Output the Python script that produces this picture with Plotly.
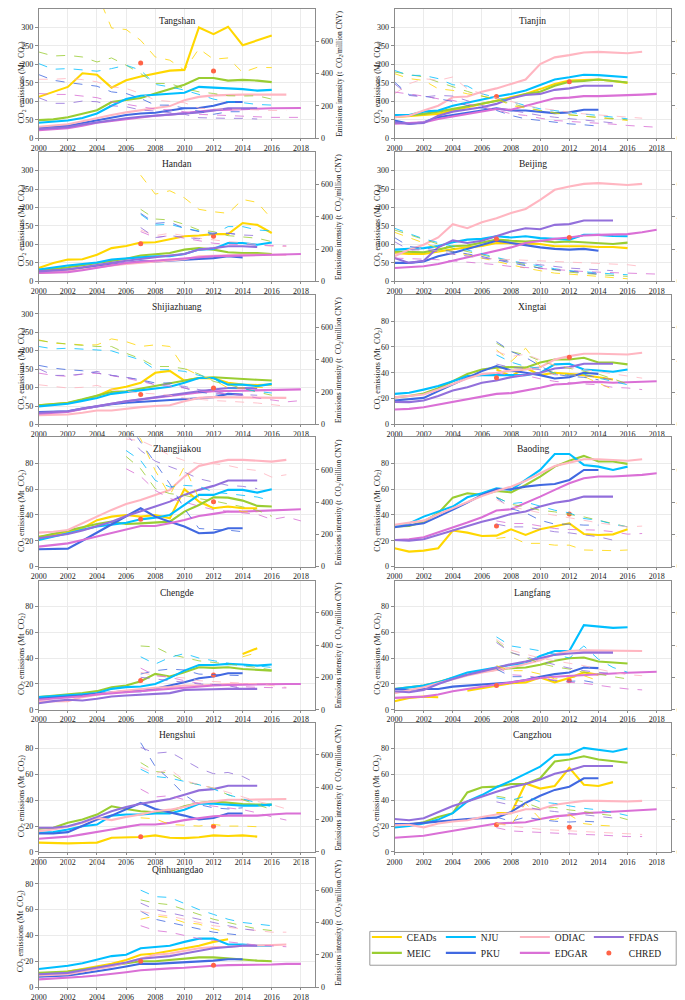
import plotly.graph_objects as go

N = None
YEARS = list(range(2000, 2019))
X_TICKS = list(range(2000, 2019, 2))
SOURCES = ["CEADs", "MEIC", "NJU", "PKU", "ODIAC", "EDGAR", "FFDAS"]
COLORS = {"CEADs": "#FFD700", "MEIC": "#9ACD32", "NJU": "#00BFFF", "PKU": "#4169E1",
          "ODIAC": "#FFB6C1", "EDGAR": "#DA70D6", "FFDAS": "#9370DB", "CHRED": "#FF6347"}
LEGEND_ROW = {"CEADs": "legend", "NJU": "legend", "ODIAC": "legend", "FFDAS": "legend",
              "MEIC": "legend2", "PKU": "legend2", "EDGAR": "legend2", "CHRED": "legend2"}
LEGEND_RANK = {"CEADs": 1, "NJU": 2, "ODIAC": 3, "FFDAS": 4, "MEIC": 1, "PKU": 2, "EDGAR": 3, "CHRED": 4}
CHRED_YEARS = [2007, 2012]

# ---------------- emissions (Mt CO2), lists start at 2000 ----------------
TANGSHAN_EMIS = {
    "CEADs": [112, 125, 139, 176, 172, 137, 157, 167, 176, 183, 185, 300, 282, 302, 252, 265, 278],
    "MEIC": [49, 51, 57, 66, 76, 98, 103, 109, 121, 134, 145, 163, 163, 156, 158, 156, 152],
    "NJU": [42, 44, 48, 55, 67, 88, 106, 115, 118, 121, 123, 139, 138, 135, 133, 129, 131],
    "PKU": [29, 31, 34, 41, 49, 56, 63, 67, 69, 75, 81, 82, 88, 98, 98],
    "ODIAC": [31, 34, 38, 46, 55, 63, 70, 76, 81, 87, 103, 112, 116, 118, 118, 118, 118, 118],
    "EDGAR": [22, 24, 27, 34, 42, 47, 52, 56, 61, 64, 67, 72, 76, 78, 79, 80, 81, 82, 82],
    "FFDAS": [25, 27, 30, 37, 43, 48, 54, 58, 61, 64, 66, 70, 75, 81, 81, 81],
}
TIANJIN_EMIS = {
    "CEADs": [57, 59, 63, 66, 75, 86, 93, 102, 111, 120, 133, 147, 156, 158, 159, 155, 150],
    "MEIC": [59, 62, 66, 72, 79, 86, 93, 102, 108, 120, 126, 142, 153, 155, 159, 155, 151],
    "NJU": [63, 63, 72, 75, 88, 97, 104, 113, 120, 129, 144, 159, 165, 172, 171, 168, 165],
    "PKU": [48, 39, 43, 57, 63, 70, 75, 81, 75, 75, 72, 68, 70, 77, 77],
    "ODIAC": [57, 61, 75, 88, 111, 113, 126, 135, 147, 159, 201, 219, 225, 232, 234, 231, 230, 234],
    "EDGAR": [39, 41, 43, 52, 59, 65, 73, 79, 77, 88, 97, 108, 110, 114, 114, 115, 115, 118, 120],
    "FFDAS": [43, 39, 41, 61, 72, 77, 84, 93, 108, 117, 120, 131, 135, 142, 142, 142],
}
HANDAN_EMIS = {
    "CEADs": [36, 50, 59, 60, 72, 90, 96, 105, 106, 113, 122, 124, 128, 128, 158, 153, 131],
    "MEIC": [29, 33, 38, 44, 50, 56, 61, 70, 74, 77, 86, 90, 86, 79, 77, 77, 74],
    "NJU": [32, 38, 43, 47, 51, 59, 61, 65, 68, 68, 74, 86, 88, 104, 104, 99, 105],
    "PKU": [25, 28, 32, 36, 41, 45, 50, 54, 54, 57, 60, 61, 63, 68, 65],
    "ODIAC": [23, 25, 27, 32, 38, 43, 47, 50, 54, 57, 60, 68, 70, 72, 72, 72, 72, 72],
    "EDGAR": [23, 24, 25, 30, 36, 43, 50, 53, 56, 58, 61, 65, 68, 69, 70, 70, 70, 72, 74],
    "FFDAS": [27, 29, 32, 38, 43, 50, 56, 60, 65, 70, 74, 86, 90, 95, 95, 93],
}
BEIJING_EMIS = {
    "CEADs": [77, 74, 74, 81, 87, 92, 96, 104, 103, 101, 101, 95, 96, 95, 93, 93, 90],
    "MEIC": [81, 80, 79, 86, 95, 97, 104, 113, 110, 108, 110, 106, 108, 105, 104, 101, 105],
    "NJU": [86, 87, 90, 96, 106, 113, 115, 122, 119, 122, 117, 115, 113, 126, 126, 123, 122],
    "PKU": [50, 50, 54, 68, 77, 88, 99, 110, 104, 97, 92, 88, 86, 88, 83],
    "ODIAC": [68, 86, 99, 119, 155, 144, 160, 171, 185, 196, 221, 248, 257, 264, 266, 263, 261, 264],
    "EDGAR": [36, 38, 41, 47, 56, 63, 72, 81, 92, 104, 110, 115, 119, 124, 126, 126, 128, 133, 140],
    "FFDAS": [63, 50, 56, 92, 111, 104, 110, 122, 135, 144, 141, 153, 155, 165, 165, 165],
}
SHIJIAZHUANG_EMIS = {
    "CEADs": [52, 55, 58, 67, 77, 95, 102, 113, 140, 145, 119, 126, 125, 113, 108, 107, 108],
    "MEIC": [52, 55, 59, 68, 77, 88, 90, 97, 104, 110, 117, 126, 128, 125, 122, 121, 119],
    "NJU": [49, 52, 56, 64, 72, 83, 88, 92, 98, 102, 113, 126, 126, 108, 108, 104, 110],
    "PKU": [34, 35, 36, 43, 50, 55, 59, 61, 63, 66, 68, 71, 74, 83, 81],
    "ODIAC": [25, 26, 27, 32, 38, 38, 43, 47, 50, 52, 63, 72, 74, 74, 73, 72, 72, 72],
    "EDGAR": [29, 31, 34, 42, 50, 56, 63, 68, 72, 78, 83, 87, 90, 91, 92, 93, 94, 94, 95],
    "FFDAS": [32, 34, 36, 43, 50, 56, 63, 68, 74, 80, 86, 90, 95, 99, 99, 98],
}
XINGTAI_EMIS = {
    "CEADs": [N, N, N, N, N, N, N, 42.6, 37.4, 43.9, 38.2, 40, 39.2, 38.2, 36.6, 34.8],
    "MEIC": [21, 22, 24, 28, 33.5, 39, 42.6, 44, 44.4, 44, 48, 50.3, 50.3, 51.6, 48, 48, 46.5],
    "NJU": [23.7, 24.5, 27, 29.7, 33.5, 37.4, 38.2, 38.2, 38.2, 38.2, 40, 46.5, 47, 42.6, 41.8, 40.8, 42.6],
    "PKU": [18.6, 19.4, 20.6, 25.8, 31, 36, 41.3, 45.2, 41.8, 40, 38.2, 35.6, 36.6, 40, 39.2],
    "ODIAC": [21, 22, 23.2, 27, 31.5, 35.6, 39, 40, 41.8, 42.6, 44.4, 50.3, 52.9, 54.7, 54.7, 54.2, 54.2, 55.5],
    "EDGAR": [11.6, 12.1, 13.4, 15.5, 18, 19.9, 21.9, 23.7, 24.3, 26.3, 28.4, 31, 31.5, 32.8, 33, 32.3, 32.8, 33.5, 33.5],
    "FFDAS": [17.5, 17.3, 18.6, 22, 26.3, 28.9, 32.3, 34, 36.6, 38.2, 40, 43.4, 44.4, 47, 47, 47],
}
ZHANGJIAKOU_EMIS = {
    "CEADs": [23, 24.5, 27, 29.7, 36, 38.7, 40, 38.7, 40, 37.4, 60, 50.3, 45.2, 46.5, 45.2, 45.2],
    "MEIC": [23, 25.5, 28, 30.5, 33, 34.8, 33, 33.5, 34, 34.8, 42.6, 47.7, 53.7, 53.4, 51.1, 47, 46.5],
    "NJU": [20.6, 23, 25.8, 28.5, 31, 32.5, 34, 36.6, 37.9, 40, 47.7, 55.5, 55.5, 59.4, 59.4, 57.3, 59.9],
    "PKU": [13.4, 13.4, 13.9, 20, 26.5, 32.7, 39, 45.2, 38.7, 34.8, 31, 25.8, 26.3, 29.7, 29.7],
    "ODIAC": [26.3, 27, 28.4, 33.5, 39.2, 43.9, 48.5, 51.6, 55.5, 59.4, 69.7, 77.9, 80.5, 82.6, 82.6, 81.8, 81.3, 82.6],
    "EDGAR": [15.5, 16.8, 18, 20.6, 23.2, 25.8, 28.9, 31.5, 31.5, 33.5, 36.1, 39.2, 40.8, 42.6, 42.6, 43, 43.4, 44, 44.4],
    "FFDAS": [21.9, 23.7, 25.3, 27.9, 31.5, 34.8, 39.2, 42.6, 46.5, 50.3, 55.5, 59.4, 62.5, 66.6, 66.6, 66.6],
}
BAODING_EMIS = {
    "CEADs": [14.2, 11.6, 12.4, 14.2, 27.9, 26.3, 23.7, 24, 28.9, 24.5, 28.9, 31, 33.5, 25.3, 24.5, 25, 28.9],
    "MEIC": [31, 31.5, 34.8, 41.3, 53.4, 56.8, 55.5, 58.5, 57.5, 63.2, 69.7, 77.4, 82, 85.7, 81.3, 81.3, 79.5],
    "NJU": [31, 33.5, 38.7, 42.6, 46.5, 53.7, 56.8, 60.6, 59.4, 67.1, 74.8, 87.2, 87.2, 78.7, 77.4, 74.8, 77.4],
    "PKU": [30.5, 32, 33.5, 38.7, 43.9, 49.5, 55.5, 59.9, 59.9, 61.9, 63.2, 64, 67.1, 74.8, 74.8],
    "ODIAC": [32.3, 34, 35.6, 40.5, 45.2, 50, 54.7, 58.5, 61.9, 66.5, 72.3, 77.9, 80.5, 83.1, 83.1, 82.6, 82, 83.1],
    "EDGAR": [20.6, 21.2, 22.7, 26.3, 30.5, 34.1, 38.2, 43.4, 44.4, 49, 54.2, 59.4, 64.5, 68.4, 69.7, 69.7, 70.2, 71, 72.3],
    "FFDAS": [20.6, 20.1, 21.2, 24.5, 27.9, 31, 34.8, 37.4, 40.8, 42.6, 46.5, 49.5, 51.1, 54.2, 54.2, 54.2],
}
CHENGDE_EMIS = {
    "CEADs": [N, N, N, N, N, N, N, N, N, N, N, N, N, N, 43.2, 47.6],
    "MEIC": [9.8, 10.8, 11.8, 13, 14.4, 17.5, 18.8, 22.1, 27.8, 25.7, 29, 32.9, 32.4, 32.9, 31.6, 30.8, 30.3],
    "NJU": [9.8, 10.4, 11.1, 12, 12.9, 16.2, 17.5, 18, 20, 24.7, 30.3, 34.7, 34.7, 35.5, 35, 34.2, 35],
    "PKU": [8.5, 9.2, 9.8, 11, 12.3, 13.5, 14.4, 14.4, 16.2, 18.8, 21.3, 24.4, 25.7, 28.3, 28.3],
    "ODIAC": [6.4, 6.4, 6.7, 9.8, 11.8, 13.6, 14.9, 16.2, 17, 17.5, 18.8, 18.8, 19.5, 20, 20, 20, 20, 20],
    "EDGAR": [7.7, 8.5, 9.3, 10.5, 11.8, 12.7, 13.6, 14.5, 15.4, 16.5, 17.5, 18.2, 18.8, 19.2, 19.5, 19.8, 20, 20, 20],
    "FFDAS": [5.1, 6.7, 7.7, 7.2, 8.5, 10.3, 11.1, 11.8, 12.3, 12.9, 15.4, 15.4, 15.9, 16.2, 16.2, 16.2],
}
LANGFANG_EMIS = {
    "CEADs": [6.6, 9.2, 10.2, 9.7, N, 14.8, 16.9, 18.7, 20.5, 21.2, 25, 21.2, 24.6, 28.9, 27.1],
    "MEIC": [16.1, 17.4, 18.7, 21.5, 24.6, 27, 29.7, 31, 32.2, 32.7, 34.8, 37.9, 39.9, 40.4, 37.3, 36.6, 35.8],
    "NJU": [16.1, 17.4, 18.7, 21.2, 25, 28.9, 30.7, 32.7, 34.8, 35.8, 41.7, 45.5, 45.5, 65.5, 64.7, 63.4, 63.9],
    "PKU": [16.1, 15.3, 16.1, 16.1, 17.9, 18.7, 19.4, 19.9, 21.2, 23, 25.6, 27.6, 28.9, 32.7, 32.2],
    "ODIAC": [12.8, 15, 17.4, 20.5, 23.8, 26.5, 28.9, 31, 32.7, 35.5, 38.4, 43, 45.5, 46, 46, 45.5, 45.5, 45.5],
    "EDGAR": [9.2, 9.7, 10.2, 11.8, 14.3, 16.1, 17.9, 19.4, 21.2, 23, 24.6, 25.6, 26.3, 27.1, 27.6, 28.1, 28.6, 28.9, 29.4],
    "FFDAS": [14.3, 13.6, 15.3, 19.9, 23.8, 27.1, 29.7, 32.7, 35.3, 37.3, 39.9, 42.5, 43.5, 44.2, 44.2, 44.2],
}
HENGSHUI_EMIS = {
    "CEADs": [7.2, 6.9, 6.6, 6.9, 7.2, 11, 11, 11.5, 12.8, 11, 10.7, 11.3, 12.8, 12.3, 12.8, 11.8],
    "MEIC": [17.9, 18.7, 22.5, 25.1, 28.9, 35.3, 33.2, 31.5, 30.7, 31.5, 35.3, 37.9, 39.1, 37.9, 37.1, 36.6, 36.6],
    "NJU": [14.8, 15.3, 17.4, 19.9, 21.2, 28.1, 28.9, 28.9, 29.7, 29.7, 32.7, 37.3, 37.3, 36.6, 35.8, 35.8, 36.6],
    "PKU": [14.3, 14.3, 15.3, 19.9, 25.1, 28.1, 32.7, 37.9, 33.2, 30.7, 28.1, 25.1, 26.3, 29.7, 29.7],
    "ODIAC": [16.1, 17.4, 19.4, 22.5, 26.3, 24.6, 27.1, 28.9, 31.5, 32.7, 34.8, 37.9, 39.1, 40.4, 40.4, 40.4, 40.4, 40.9],
    "EDGAR": [10.2, 11, 11.8, 13.6, 15.3, 17.4, 19.4, 21.2, 21.2, 22.5, 24.6, 26.3, 27.6, 28.1, 28.1, 28.1, 28.9, 29.7, 29.7],
    "FFDAS": [18.7, 18.7, 19.9, 23, 27.1, 31.5, 34.8, 37.3, 39.1, 40.9, 44.2, 47.6, 48.6, 51.2, 51.2, 51.2],
}
CANGZHOU_EMIS = {
    "CEADs": [N, N, N, N, N, N, N, 30, 30, 53, 49, 51, 65, 52, 51, 54],
    "MEIC": [20, 21, 23, 27, 30, 46, 50, 50.5, 52.5, 52.5, 57, 70, 71.5, 74, 71.5, 70.5, 69],
    "NJU": [19, 20, 22, 25, 30, 39, 44, 50, 55, 60.5, 66, 75, 75.5, 80.5, 79, 77.5, 80],
    "PKU": [21.5, 21.5, 22.5, 23.5, 25, 25.5, 26, 26.5, 31, 38, 43.5, 48, 50.5, 57, 57],
    "ODIAC": [20.5, 21, 19, 22, 23.5, 24.5, 27, 29, 30, 33, 33, 36.5, 38, 39.5, 39.5, 39, 39, 39.5],
    "EDGAR": [11, 11.5, 12.5, 14.5, 16.5, 18, 20, 22, 22.5, 23, 25.5, 27.5, 28.5, 30, 30.5, 31, 31.5, 32.3, 33],
    "FFDAS": [25.5, 24.5, 26, 30.5, 35.5, 39, 43, 46.5, 50, 52.5, 56, 60.5, 63, 66.5, 66.5, 66.5],
}
QINHUANGDAO_EMIS = {
    "CEADs": [10, 11, 12, 14, 16, 18, 21, 25, 26, 28, 30, 32, 35, 37],
    "MEIC": [11, 11.5, 12, 13.5, 15, 16.5, 18, 20, 20, 21, 22, 23, 23, 22, 21, 20.5, 20],
    "NJU": [14, 15, 16.5, 18.5, 21, 24, 25, 30, 31, 32, 35, 37.5, 37.5, 33, 33, 32, 32],
    "PKU": [8, 8.5, 9, 10.5, 12, 14, 16, 18, 18, 18.5, 19, 20, 20.5, 21.5, 21.5],
    "ODIAC": [9, 9.5, 10, 12, 14, 16, 19, 22, 25, 26, 28, 30, 31, 31, 32, 32, 32.5, 33],
    "EDGAR": [6, 6.5, 7, 8, 9, 10, 11.5, 13, 14, 14.5, 15, 16, 16.5, 17, 17, 17.5, 17.5, 18, 18],
    "FFDAS": [10, 10.5, 11, 13, 15, 17, 19, 22, 23, 24, 26, 28, 30, 31, 32, 32],
}

# ---------------- CHRED points (2007, 2012) ----------------
TANGSHAN_CHRED = [204, 182]
TIANJIN_CHRED = [113, 153]
HANDAN_CHRED = [102, 122]
BEIJING_CHRED = [115, 119]
SHIJIAZHUANG_CHRED = [81, 99]
XINGTAI_CHRED = [36.1, 52.1]
ZHANGJIAKOU_CHRED = [36.6, 50.3]
BAODING_CHRED = [31.5, 40.8]
CHENGDE_CHRED = [22.6, 27]
LANGFANG_CHRED = [18.7, 22.5]
HENGSHUI_CHRED = [11.8, 19.9]
CANGZHOU_CHRED = [21, 19]
QINHUANGDAO_CHRED = [20, 17]

# ---------------- emission intensity (t CO2 / million CNY) ----------------
INT_START = {"Tangshan": 2000, "Tianjin": 2000, "Handan": 2007, "Beijing": 2000,
             "Shijiazhuang": 2000, "Xingtai": 2007, "Zhangjiakou": 2006, "Baoding": 2007,
             "Chengde": 2007, "Langfang": 2007, "Hengshui": 2007, "Cangzhou": 2007,
             "Qinhuangdao": 2007}

TANGSHAN_INT = {
    "CEADs": [1200, 1150, 1100, 1000, 900, 682, 673, 606, 503, 483, 421, 554, 489, 497, 407, 439, 437],
    "MEIC": [534, 509, 513, 503, 472, 497, 452, 400, 339, 339, 308, 287, 277, 263, 261, 263, 242],
    "NJU": [462, 427, 431, 425, 415, 431, 452, 421, 333, 318, 298, 271, 242, 226, 220, 209, 205],
    "PKU": [394, 359, 345, 333, 322, 287, 277, 246, 205, 205, 185, 164, 148, 164, 164],
    "ODIAC": [365, 365, 370, 363, 349, 318, 308, 277, 236, 230, 220, 185, 181, 179, 179, 175, 172, 172],
    "EDGAR": [277, 271, 271, 263, 251, 226, 209, 195, 181, 175, 164, 148, 144, 140, 133, 131, 129, 129, 129],
    "FFDAS": [251, 216, 216, 230, 226, 201, 195, 175, 168, 160, 148, 127, 123, 123, 123, 119],
}
TIANJIN_INT = {
    "CEADs": [400, 369, 358, 306, 296, 275, 261, 244, 203, 186, 172, 155, 145, 137, 130, 120, 110],
    "MEIC": [410, 395, 379, 348, 317, 290, 261, 237, 213, 192, 172, 158, 145, 137, 130, 122, 114],
    "NJU": [420, 389, 389, 369, 331, 323, 275, 250, 224, 203, 182, 170, 157, 149, 141, 130, 120],
    "PKU": [348, 269, 261, 244, 228, 203, 186, 172, 141, 120, 110, 99, 89, 83, 75],
    "ODIAC": [275, 337, 369, 358, 379, 306, 275, 248, 228, 203, 186, 172, 161, 151, 145, 137, 130, 124],
    "EDGAR": [286, 275, 261, 244, 234, 213, 193, 176, 151, 141, 124, 110, 104, 99, 95, 87, 79, 74, 68],
    "FFDAS": [337, 265, 255, 265, 261, 234, 203, 182, 172, 157, 141, 130, 120, 110, 104, 95],
}
HANDAN_INT = {
    "CEADs": [657, 540, 561, 517, 446, 431, 421, 507, 489, 386],
    "MEIC": [446, 386, 380, 353, 318, 308, 283, 277, 267, 246],
    "NJU": [415, 349, 353, 329, 312, 292, 339, 339, 318, 312],
    "PKU": [421, 359, 366, 329, 308, 298, 298, 287],
    "ODIAC": [318, 283, 298, 283, 267, 257, 246, 240, 226, 216, 216],
    "EDGAR": [308, 271, 283, 267, 250, 236, 230, 226, 224, 222, 220],
    "FFDAS": [333, 271, 283, 271, 263, 298, 298, 287, 283],
}
BEIJING_INT = {
    "CEADs": [304, 271, 236, 205, 185, 164, 144, 123, 103, 82, 66, 51, 45, 37, 31, 25, 16],
    "MEIC": [318, 288, 257, 231, 205, 185, 164, 144, 123, 103, 82, 70, 57, 49, 41, 36, 31],
    "NJU": [329, 298, 263, 240, 216, 192, 168, 148, 127, 110, 92, 78, 66, 58, 51, 46, 41],
    "PKU": [271, 216, 205, 195, 185, 170, 154, 133, 113, 97, 82, 72, 62, 53, 45],
    "ODIAC": [168, 190, 205, 185, 168, 156, 144, 138, 133, 130, 127, 123, 119, 116, 113, 108, 103, 92],
    "EDGAR": [144, 142, 140, 134, 127, 120, 113, 103, 92, 85, 78, 72, 66, 61, 57, 53, 49, 47, 45],
    "FFDAS": [246, 195, 195, 185, 168, 156, 144, 133, 123, 113, 103, 92, 82, 77, 72, 66],
}
SHIJIAZHUANG_INT = {
    "CEADs": [524, 503, 499, 493, 493, 530, 513, 483, 493, 483, 349, 304, 277, 226, 226, 230, 226],
    "MEIC": [520, 508, 497, 490, 483, 483, 441, 407, 359, 359, 345, 312, 267, 246, 226, 201, 181],
    "NJU": [483, 468, 472, 468, 462, 456, 427, 400, 339, 339, 329, 304, 287, 226, 222, 205, 195],
    "PKU": [366, 349, 339, 333, 318, 304, 292, 277, 257, 257, 226, 201, 189, 189, 185],
    "ODIAC": [246, 236, 226, 230, 242, 216, 205, 195, 189, 181, 164, 154, 148, 144, 140, 133, 123, 113],
    "EDGAR": [318, 304, 298, 312, 318, 304, 287, 267, 246, 236, 226, 209, 195, 189, 181, 164, 154, 140, 148],
    "FFDAS": [345, 304, 304, 312, 329, 304, 292, 277, 246, 246, 236, 216, 205, 189, 185, 181],
}
XINGTAI_INT = {
    "CEADs": [462, 390, 472, 359, 318, 308, 298, 257, 216],
    "MEIC": [503, 452, 431, 394, 366, 349, 333, 312, 283, 251],
    "NJU": [431, 386, 359, 349, 318, 304, 312, 287, 267, 246],
    "PKU": [513, 452, 415, 366, 312, 298, 292, 277],
    "ODIAC": [452, 421, 435, 400, 366, 353, 339, 329, 312, 298, 287],
    "EDGAR": [318, 304, 304, 283, 267, 257, 251, 246, 230, 226, 216],
    "FFDAS": [374, 353, 349, 339, 308, 304, 304, 292, 277],
}
ZHANGJIAKOU_INT = {
    "CEADs": [900, 790, 595, 441, 620, 421, 359, 370, 339, 339],
    "MEIC": [682, 606, 483, 452, 441, 421, 407, 390, 370, 349, 312],
    "NJU": [719, 657, 534, 493, 503, 497, 462, 452, 441, 431, 407],
    "PKU": [900, 770, 637, 513, 359, 236, 230, 226, 216],
    "ODIAC": [790, 780, 739, 688, 657, 637, 637, 626, 606, 595, 554, 569],
    "EDGAR": [606, 559, 472, 421, 400, 374, 353, 345, 333, 324, 292, 308, 283],
    "FFDAS": [820, 719, 653, 620, 585, 544, 524, 503, 497, 483],
}
BAODING_INT = {
    "CEADs": [175, 185, 144, 144, 133, 133, 103, 99, 99, 103],
    "MEIC": [431, 386, 370, 349, 339, 324, 308, 287, 267, 246],
    "NJU": [427, 390, 400, 374, 349, 333, 298, 287, 263, 246],
    "PKU": [427, 359, 333, 287, 263, 263, 257, 257],
    "ODIAC": [415, 370, 353, 333, 318, 304, 287, 271, 257, 246, 251],
    "EDGAR": [283, 267, 267, 251, 236, 230, 230, 226, 216, 201, 205],
    "FFDAS": [263, 246, 246, 230, 216, 209, 195, 185, 164],
}
CHENGDE_INT = {
    "CEADs": [N, N, N, N, N, N, N, 328, 354],
    "MEIC": [395, 389, 344, 324, 303, 293, 283, 272, 262, 246],
    "NJU": [328, 283, 324, 348, 320, 303, 287, 272, 272, 262],
    "PKU": [221, 242, 252, 246, 221, 217, 217, 211],
    "ODIAC": [232, 211, 205, 197, 180, 176, 170, 164, 160, 150, 139],
    "EDGAR": [258, 211, 201, 180, 164, 156, 150, 143, 139, 139, 135],
    "FFDAS": [201, 191, 180, 170, 160, 156, 150, 129, 129],
}
LANGFANG_INT = {
    "CEADs": [273, 242, 242, 221, 191, 197, 211, 180],
    "MEIC": [426, 354, 324, 287, 266, 252, 232, 221, 205, 191],
    "NJU": [451, 395, 381, 365, 344, 320, 395, 313, 262, 232],
    "PKU": [252, 205, 205, 197, 180, 176, 180, 164],
    "ODIAC": [436, 369, 344, 320, 303, 287, 273, 252, 232, 217, 211],
    "EDGAR": [266, 217, 211, 197, 180, 170, 164, 150, 139, 129, 123],
    "FFDAS": [416, 354, 328, 303, 279, 258, 242, 232, 225],
}
HENGSHUI_INT = {
    "CEADs": [211, 205, 170, 164, 160, 170, 160, 160, 156],
    "MEIC": [553, 498, 488, 436, 416, 395, 354, 324, 293, 262],
    "NJU": [512, 467, 457, 436, 416, 389, 354, 328, 303, 279],
    "PKU": [676, 529, 447, 354, 293, 273, 266, 273],
    "ODIAC": [525, 484, 512, 443, 416, 395, 369, 340, 313, 293, 266],
    "EDGAR": [389, 340, 348, 324, 299, 283, 273, 262, 242, 217, 197],
    "FFDAS": [647, 611, 619, 570, 518, 484, 492, 467, 422],
}
CANGZHOU_INT = {
    "CEADs": [175, 165, 300, 205, 200, 230, 175, 165, 160],
    "MEIC": [345, 330, 305, 270, 275, 260, 250, 235, 225, 200],
    "NJU": [335, 320, 345, 310, 300, 285, 270, 260, 245, 225],
    "PKU": [215, 190, 215, 200, 190, 185, 190, 185],
    "ODIAC": [175, 160, 150, 140, 135, 130, 125, 120, 115, 110, 108],
    "EDGAR": [150, 130, 125, 120, 115, 112, 108, 105, 100, 95, 95],
    "FFDAS": [310, 290, 280, 260, 250, 240, 230, 220, 210],
}
QINHUANGDAO_INT = {
    "CEADs": [420, 440, 430, 400, 390, 360, 340],
    "MEIC": [540, 520, 510, 480, 450, 420, 400, 380, 360, 350],
    "NJU": [600, 560, 555, 520, 480, 450, 420, 400, 390, 380],
    "PKU": [470, 420, 400, 380, 360, 340, 330, 320],
    "ODIAC": [470, 450, 440, 420, 400, 380, 370, 360, 350, 340, 340],
    "EDGAR": [380, 350, 340, 320, 300, 290, 280, 270, 260, 255, 250],
    "FFDAS": [520, 480, 460, 440, 420, 400, 380, 360, 350],
}

# (name, emissions, intensity, chred, column, row, large y-range)
PANELS = [
    ("Tangshan", TANGSHAN_EMIS, TANGSHAN_INT, TANGSHAN_CHRED, 0, 0, True),
    ("Tianjin", TIANJIN_EMIS, TIANJIN_INT, TIANJIN_CHRED, 1, 0, True),
    ("Handan", HANDAN_EMIS, HANDAN_INT, HANDAN_CHRED, 0, 1, True),
    ("Beijing", BEIJING_EMIS, BEIJING_INT, BEIJING_CHRED, 1, 1, True),
    ("Shijiazhuang", SHIJIAZHUANG_EMIS, SHIJIAZHUANG_INT, SHIJIAZHUANG_CHRED, 0, 2, True),
    ("Xingtai", XINGTAI_EMIS, XINGTAI_INT, XINGTAI_CHRED, 1, 2, False),
    ("Zhangjiakou", ZHANGJIAKOU_EMIS, ZHANGJIAKOU_INT, ZHANGJIAKOU_CHRED, 0, 3, False),
    ("Baoding", BAODING_EMIS, BAODING_INT, BAODING_CHRED, 1, 3, False),
    ("Chengde", CHENGDE_EMIS, CHENGDE_INT, CHENGDE_CHRED, 0, 4, False),
    ("Langfang", LANGFANG_EMIS, LANGFANG_INT, LANGFANG_CHRED, 1, 4, False),
    ("Hengshui", HENGSHUI_EMIS, HENGSHUI_INT, HENGSHUI_CHRED, 0, 5, False),
    ("Cangzhou", CANGZHOU_EMIS, CANGZHOU_INT, CANGZHOU_CHRED, 1, 5, False),
    ("Qinhuangdao", QINHUANGDAO_EMIS, QINHUANGDAO_INT, QINHUANGDAO_CHRED, 0, 6, False),
]

# ---------------- layout geometry ----------------
W, H = 685, 1000
COL_X = [(23, 303), (383, 663)]
ROW_TOP = [0, 144, 288, 431, 575, 718, 854]
PANEL_H = 130
FONT = "Liberation Serif"
AXC = "#8c8c8c"
GRIDC = "#ebebeb"
TXT = "#222222"
TICKF = dict(family=FONT, size=8, color=TXT)

LEG_COMMON = dict(orientation="h", xanchor="left", yanchor="top",
                  entrywidth=29, entrywidthmode="pixels", itemwidth=30,
                  borderwidth=0, bgcolor="rgba(0,0,0,0)", traceorder="normal",
                  font=dict(family=FONT, size=9.5, color=TXT))

fig = go.Figure()
layout = dict(
    width=W, height=H, margin=dict(l=0, r=0, t=0, b=0),
    paper_bgcolor="white", plot_bgcolor="white",
    font=dict(family=FONT, size=9, color=TXT),
    showlegend=True,
    legend=dict(x=355 / W, y=1 - 919 / H, **LEG_COMMON),
    legend2=dict(x=355 / W, y=1 - 935 / H, **LEG_COMMON),
    shapes=[dict(type="rect", xref="paper", yref="paper",
                 x0=358 / W, x1=668 / W, y0=1 - 962 / H, y1=1 - 928 / H,
                 line=dict(color="#9a9a9a", width=1), fillcolor="rgba(0,0,0,0)")],
)
annotations = []
shown = set()

for i, (name, emis, inten, chred, col, row, big) in enumerate(PANELS):
    k = i + 1
    xname = "x" if k == 1 else f"x{k}"
    yl = "y" if k == 1 else f"y{2 * k - 1}"
    yr = f"y{2 * k}"
    x0, x1 = COL_X[col]
    top = ROW_TOP[row]
    bot = top + PANEL_H
    xd = [x0 / W, x1 / W]
    yd = [1 - bot / H, 1 - top / H]

    layout["xaxis" if k == 1 else f"xaxis{k}"] = dict(
        domain=xd, anchor=yl, range=[2000, 2019], tickvals=X_TICKS,
        showgrid=True, gridcolor=GRIDC, gridwidth=1, zeroline=False,
        showline=True, mirror=True, linecolor=AXC, linewidth=1,
        ticks="outside", ticklen=2, tickcolor=AXC, tickfont=TICKF)
    if big:
        yrange, yticks = [0, 350], list(range(0, 301, 50))
    else:
        yrange, yticks = [0, 100], list(range(0, 81, 20))
    layout["yaxis" if k == 1 else f"yaxis{2 * k - 1}"] = dict(
        domain=yd, anchor=xname, range=yrange, tickvals=yticks,
        showgrid=True, gridcolor=GRIDC, zeroline=False,
        showline=True, linecolor=AXC, linewidth=1,
        ticks="outside", ticklen=3, tickcolor=AXC, tickfont=TICKF)
    layout[f"yaxis{2 * k}"] = dict(
        overlaying=yl, side="right", anchor=xname, range=[0, 800],
        tickvals=[0, 200, 400, 600], showgrid=False, zeroline=False,
        showline=True, linecolor=AXC, linewidth=1,
        ticks="outside", ticklen=3, tickcolor=AXC, tickfont=TICKF)

    # emissions (solid)
    for s in SOURCES:
        vals = emis[s]
        first = s not in shown
        shown.add(s)
        fig.add_trace(go.Scatter(
            x=YEARS[:len(vals)], y=vals, mode="lines", name=s,
            line=dict(color=COLORS[s], width=2.1), connectgaps=False,
            legend=LEGEND_ROW[s], showlegend=first, legendrank=LEGEND_RANK[s],
            xaxis=xname, yaxis=yl, hoverinfo="skip"))
    # CHRED points
    fig.add_trace(go.Scatter(
        x=CHRED_YEARS, y=chred, mode="markers", name="CHRED",
        marker=dict(color=COLORS["CHRED"], size=5),
        legend=LEGEND_ROW["CHRED"], showlegend=(k == 1), legendrank=LEGEND_RANK["CHRED"],
        xaxis=xname, yaxis=yl, hoverinfo="skip"))
    # intensity (dashed)
    start = INT_START[name]
    for s in SOURCES:
        vals = inten[s]
        fig.add_trace(go.Scatter(
            x=list(range(start, start + len(vals))), y=vals, mode="lines", name=s,
            line=dict(color=COLORS[s], width=1, dash="dash"), opacity=0.8,
            connectgaps=False, showlegend=False,
            xaxis=xname, yaxis=yr, hoverinfo="skip"))

    # panel title
    annotations.append(dict(
        text=name, x=(x0 + x1) / 2 / W, y=1 - (top + 5) / H, xref="paper", yref="paper",
        xanchor="center", yanchor="top", showarrow=False,
        font=dict(family=FONT, size=9.5, color=TXT)))
    # left axis title
    lx = 6 if col == 0 else 366
    annotations.append(dict(
        text="CO<sub>2</sub> emissions (Mt  CO<sub>2</sub>)", x=lx / W,
        y=1 - (top + PANEL_H / 2 + 9) / H, xref="paper", yref="paper",
        xanchor="center", yanchor="middle", textangle=-90, showarrow=False,
        font=dict(family=FONT, size=8, color=TXT)))
    # right axis title
    rx = 327 if col == 0 else 678
    annotations.append(dict(
        text="Emissions intensity (t  CO<sub>2</sub>/million CNY)", x=rx / W,
        y=1 - (top + PANEL_H / 2) / H, xref="paper", yref="paper",
        xanchor="center", yanchor="middle", textangle=-90, showarrow=False,
        font=dict(family=FONT, size=7.5, color=TXT)))

layout["annotations"] = annotations
fig.update_layout(**layout)
fig.write_html("out.html")
